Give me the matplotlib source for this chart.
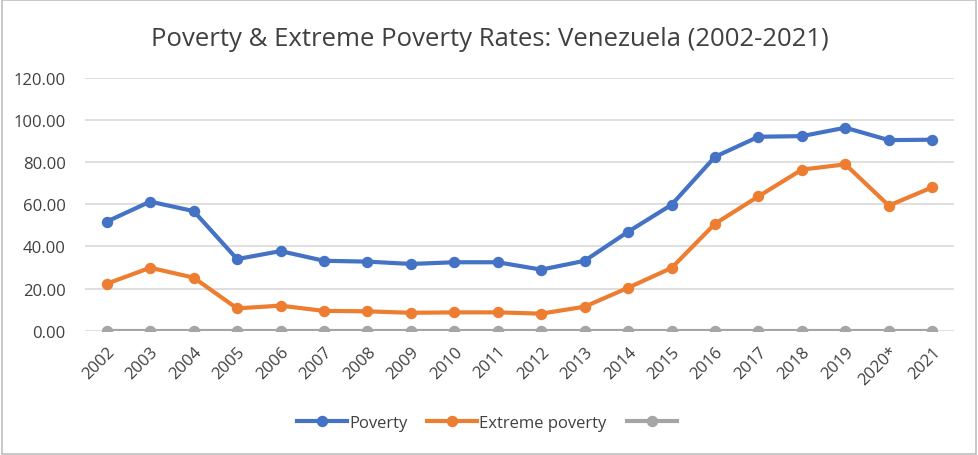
import matplotlib
matplotlib.use("Agg")
import matplotlib.pyplot as plt
from matplotlib.patches import Rectangle

years = ["2002", "2003", "2004", "2005", "2006", "2007", "2008", "2009", "2010", "2011",
         "2012", "2013", "2014", "2015", "2016", "2017", "2018", "2019", "2020*", "2021"]
poverty = [51.8, 61.3, 56.8, 34.0, 37.8, 33.2, 32.8, 31.7, 32.5, 32.5,
           29.0, 33.2, 47.0, 59.8, 82.6, 92.1, 92.4, 96.4, 90.5, 90.7]
extreme = [22.3, 29.9, 25.2, 10.6, 11.9, 9.4, 9.2, 8.5, 8.7, 8.7,
           8.1, 11.4, 20.4, 29.8, 50.8, 63.8, 76.5, 79.0, 59.4, 68.1]
third = [0.0] * 20
yticks = [0, 20, 40, 60, 80, 100, 120]

plt.rcParams['font.family'] = ['Open Sans', 'DejaVu Sans']

W, H = 979, 456
fig = plt.figure(figsize=(W / 100, H / 100), dpi=100)
ax = fig.add_axes([85 / W, (H - 331.7) / H, (954 - 85) / W, (331.7 - 79) / H])

x = list(range(len(years)))
ax.plot(x, poverty, color="#4472C4", lw=3, marker="o", ms=7.2, label="Poverty", zorder=3)
ax.plot(x, extreme, color="#ED7D31", lw=3, marker="o", ms=7.2, label="Extreme poverty", zorder=3)
ax.plot(x, third, color="#A5A5A5", lw=3, marker="o", ms=7.2, label=" ", zorder=3)

ax.set_xlim(-0.5, len(years) - 0.5)
ax.set_ylim(0, 120)
ax.set_yticks(yticks)
ax.set_yticklabels([f"{v:.2f}" for v in yticks], fontsize=12, color="#404040")
ax.set_xticks(x)
ax.set_xticklabels(years, rotation=45, ha="right", rotation_mode="anchor",
                   fontsize=12, color="#404040")
ax.tick_params(axis="both", length=0)
ax.tick_params(axis="y", pad=14)
ax.tick_params(axis="x", pad=9)
ax.grid(axis="y", color="#D9D9D9", lw=1.2)
ax.set_axisbelow(True)
for s in ax.spines.values():
    s.set_visible(False)

fig.text(490 / W, 1 - 40 / H, "Poverty & Extreme Poverty Rates: Venezuela (2002-2021)",
         ha="center", va="center", fontsize=18.5, color="#404040")

leg = fig.legend(loc="center", bbox_to_anchor=(490 / W, 1 - 424 / H), ncol=3,
                 frameon=False, fontsize=12, handlelength=3.0, handletextpad=0.1,
                 columnspacing=1.2)
for t in leg.get_texts():
    t.set_color("#404040")

fig.patches.append(Rectangle((0.002, 0.003), 0.995, 0.994, transform=fig.transFigure,
                             fill=False, edgecolor="#BFBFBF", lw=1.2))

fig.savefig("out.png", dpi=100, facecolor="white")
